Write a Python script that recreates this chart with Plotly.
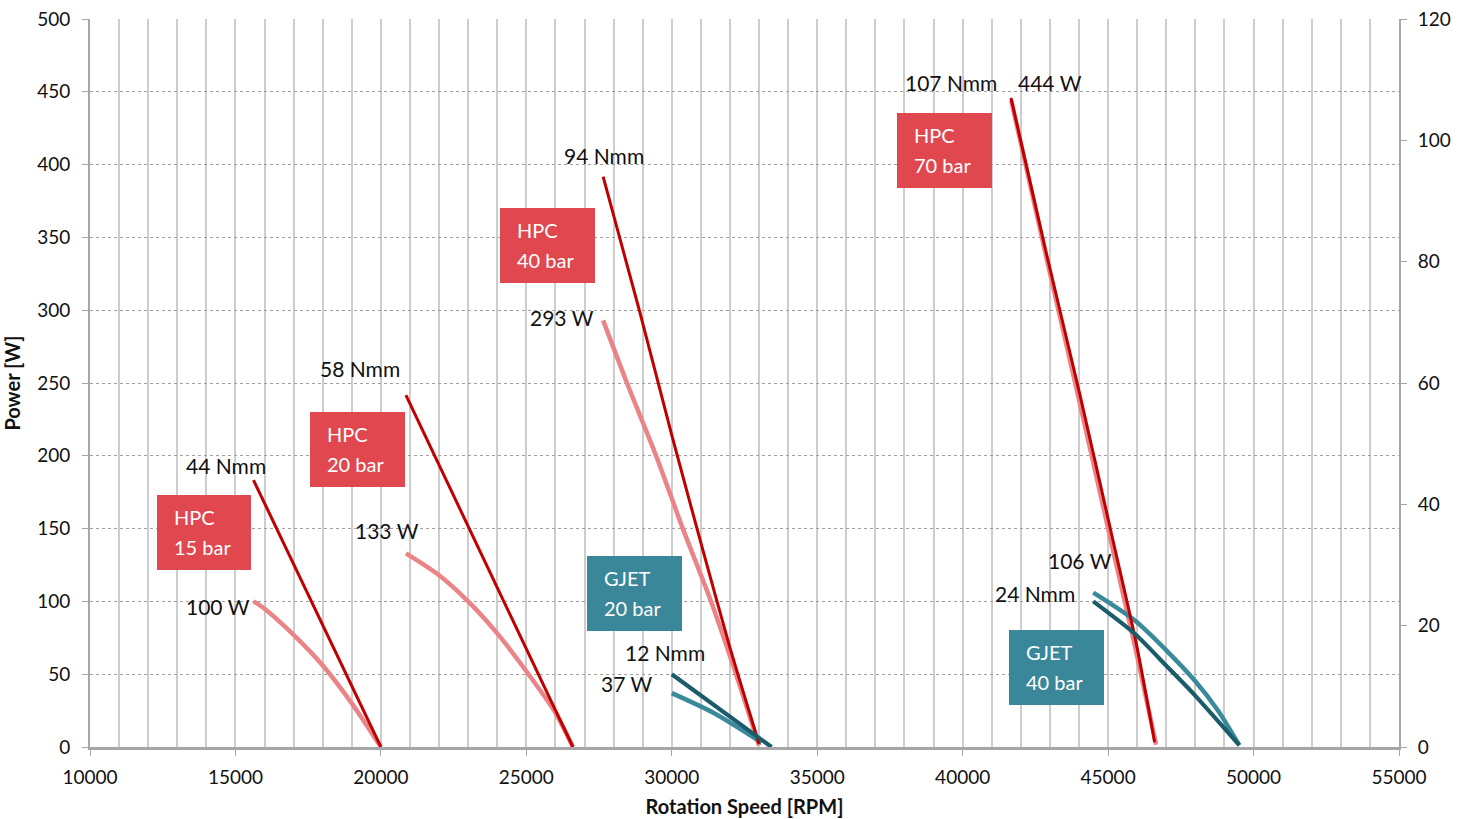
import plotly.graph_objects as go

# ---- Power curves [W] vs rotation speed [RPM] ----
hpc15_pow_rpm = [15620, 16000, 17000, 18000, 19000, 20000]
hpc15_pow = [100, 95, 77, 56, 30, 0]
hpc20_pow_rpm = [20860, 22000, 23000, 24000, 25000, 26000, 26600]
hpc20_pow = [133, 118, 100, 78, 52, 23.5, 0]
hpc40_pow_rpm = [27640, 28460, 29460, 30380, 31350, 32210, 33000]
hpc40_pow = [293, 250, 200, 150, 100, 50, 1]
hpc70_pow_rpm = [41670, 42880, 44030, 45170, 45980, 46650]
hpc70_pow = [444, 336, 236, 135, 64, 1.5]
gjet20_pow_rpm = [30000, 31430, 33090]
gjet20_pow = [37, 23.5, 3]
gjet40_pow_rpm = [44490, 45910, 47000, 47970, 48770, 49510]
gjet40_pow = [106, 87, 66.4, 45.8, 25.2, 1.1]

# ---- Torque curves [Nmm] vs rotation speed [RPM] ----
hpc15_trq_rpm = [15620, 20000]
hpc15_trq = [44, 0]
hpc20_trq_rpm = [20860, 26600]
hpc20_trq = [58, 0]
hpc40_trq_rpm = [27640, 28890, 30000, 31060, 31980, 33000]
hpc40_trq = [94, 71.9, 51.4, 32.6, 16.7, 0.5]
hpc70_trq_rpm = [41660, 42880, 44030, 45170, 45980, 46600]
hpc70_trq = [107, 81.3, 58.1, 34, 16.8, 0.8]
gjet20_trq_rpm = [30000, 33430]
gjet20_trq = [12, 0]
gjet40_trq_rpm = [44490, 45910, 47000, 47970, 49510]
gjet40_trq = [24, 18.7, 13.4, 8.6, 0.3]

x_ticks = [10000, 15000, 20000, 25000, 30000, 35000, 40000, 45000, 50000, 55000]
y_ticks = [0, 50, 100, 150, 200, 250, 300, 350, 400, 450, 500]
y2_ticks = [0, 20, 40, 60, 80, 100, 120]

PINK = "#EA8487"
DARK_RED = "#C00000"
TEAL = "#3A8A9C"
DARK_TEAL = "#1B5C6B"
BOX_RED = "#E0474F"
BOX_TEAL = "#3A8799"
FONT = "Lato"

fig = go.Figure()

power_series = [
    (hpc15_pow_rpm, hpc15_pow, PINK),
    (hpc20_pow_rpm, hpc20_pow, PINK),
    (hpc40_pow_rpm, hpc40_pow, PINK),
    (hpc70_pow_rpm, hpc70_pow, PINK),
    (gjet20_pow_rpm, gjet20_pow, TEAL),
    (gjet40_pow_rpm, gjet40_pow, TEAL),
]
torque_series = [
    (hpc15_trq_rpm, hpc15_trq, DARK_RED, 3),
    (hpc20_trq_rpm, hpc20_trq, DARK_RED, 3),
    (hpc40_trq_rpm, hpc40_trq, DARK_RED, 3),
    (hpc70_trq_rpm, hpc70_trq, DARK_RED, 3),
    (gjet20_trq_rpm, gjet20_trq, DARK_TEAL, 4.2),
    (gjet40_trq_rpm, gjet40_trq, DARK_TEAL, 4.2),
]

for xs, ys, col in power_series:
    fig.add_trace(go.Scatter(
        x=xs, y=ys, mode="lines", yaxis="y",
        line=dict(color=col, width=4.5, shape="spline", smoothing=0.8),
        showlegend=False, hoverinfo="skip"))

for xs, ys, col, w in torque_series:
    fig.add_trace(go.Scatter(
        x=xs, y=ys, mode="lines", yaxis="y2",
        line=dict(color=col, width=w, shape="spline", smoothing=0.6),
        showlegend=False, hoverinfo="skip"))

# Value labels at the start of each curve
labels = [
    (f"{hpc15_trq[0]} Nmm", 14675, 193.0),
    (f"{hpc15_pow[0]} W", 14383, 96.2),
    (f"{hpc20_trq[0]} Nmm", 19265, 260.3),
    (f"{hpc20_pow[0]} W", 20193, 148.4),
    (f"{hpc40_trq[0]} Nmm", 27670, 406.3),
    (f"{hpc40_pow[0]} W", 26209, 295.3),
    (f"{hpc70_trq[0]} Nmm", 39598, 456.7),
    (f"{hpc70_pow[0]} W", 43002, 456.7),
    (f"{gjet20_trq[0]} Nmm", 29784, 64.6),
    (f"{gjet20_pow[0]} W", 28443, 43.3),
    (f"{gjet40_pow[0]} W", 44033, 128.4),
    (f"{gjet40_trq[0]} Nmm", 42503, 105.1),
]
annotations = []
for txt, x, y in labels:
    annotations.append(dict(
        x=x, y=y, xref="x", yref="y", text=txt, showarrow=False,
        xanchor="center", yanchor="middle",
        font=dict(family=FONT, size=21, color="#111111")))

# Configuration boxes: (line1, line2, x0, x1, y0, y1, colour)
boxes = [
    ("HPC", "15 bar", 12303, 15535, 121.6, 173.1, BOX_RED),
    ("HPC", "20 bar", 17563, 20829, 178.6, 230.1, BOX_RED),
    ("HPC", "40 bar", 24095, 27360, 318.7, 370.2, BOX_RED),
    ("HPC", "70 bar", 37742, 41008, 383.9, 435.4, BOX_RED),
    ("GJET", "20 bar", 27085, 30351, 79.7, 131.2, BOX_TEAL),
    ("GJET", "40 bar", 41592, 44858, 28.8, 80.4, BOX_TEAL),
]
shapes = []
for l1, l2, x0, x1, y0, y1, col in boxes:
    shapes.append(dict(type="rect", xref="x", yref="y", x0=x0, x1=x1,
                       y0=y0, y1=y1, fillcolor=col, line=dict(width=0),
                       layer="above"))
    xl = x0 + 520
    h = y1 - y0
    annotations.append(dict(x=xl, y=y1 - h * 0.29, xref="x", yref="y",
                            text=l1, showarrow=False, xanchor="left",
                            yanchor="middle",
                            font=dict(family=FONT, size=20, color="white")))
    annotations.append(dict(x=xl, y=y1 - h * 0.69, xref="x", yref="y",
                            text=l2, showarrow=False, xanchor="left",
                            yanchor="middle",
                            font=dict(family=FONT, size=20, color="white")))

fig.update_layout(
    width=1468, height=819,
    margin=dict(l=90, r=69, t=19, b=72),
    paper_bgcolor="white", plot_bgcolor="white",
    font=dict(family=FONT, size=19, color="#111111"),
    shapes=shapes, annotations=annotations,
    xaxis=dict(
        range=[10000, 55000], tickvals=x_ticks, ticktext=[str(v) for v in x_ticks],
        showgrid=True, gridcolor="#CDCDCD", gridwidth=1.6,
        minor=dict(dtick=1000, tick0=10000, showgrid=True,
                   gridcolor="#CDCDCD", gridwidth=1.6),
        showline=True, linecolor="#A6A6A6", linewidth=2.5,
        ticks="outside", ticklen=6, tickcolor="#A6A6A6",
        ticklabelstandoff=5, automargin=False,
        zeroline=False, tickfont=dict(size=19),
        title=dict(text="<b>Rotation Speed [RPM]</b>", standoff=14,
                   font=dict(size=20)),
    ),
    yaxis=dict(
        range=[0, 500], tickvals=y_ticks,
        showgrid=True, gridcolor="#A0A0A0", gridwidth=1, griddash="dot",
        showline=True, linecolor="#A6A6A6", linewidth=2,
        ticks="outside", ticklen=6, tickcolor="#A6A6A6",
        ticklabelstandoff=8, automargin=False,
        zeroline=False, tickfont=dict(size=19),
        title=dict(text="<b>Power [W]</b>", standoff=12, font=dict(size=20)),
    ),
    yaxis2=dict(
        range=[0, 120], tickvals=y2_ticks, overlaying="y", side="right",
        showgrid=False, showline=True, linecolor="#A6A6A6", linewidth=2,
        ticks="outside", ticklen=6, tickcolor="#A6A6A6",
        ticklabelstandoff=7, automargin=False,
        zeroline=False, tickfont=dict(size=19),
    ),
)

fig.write_html("out.html")
